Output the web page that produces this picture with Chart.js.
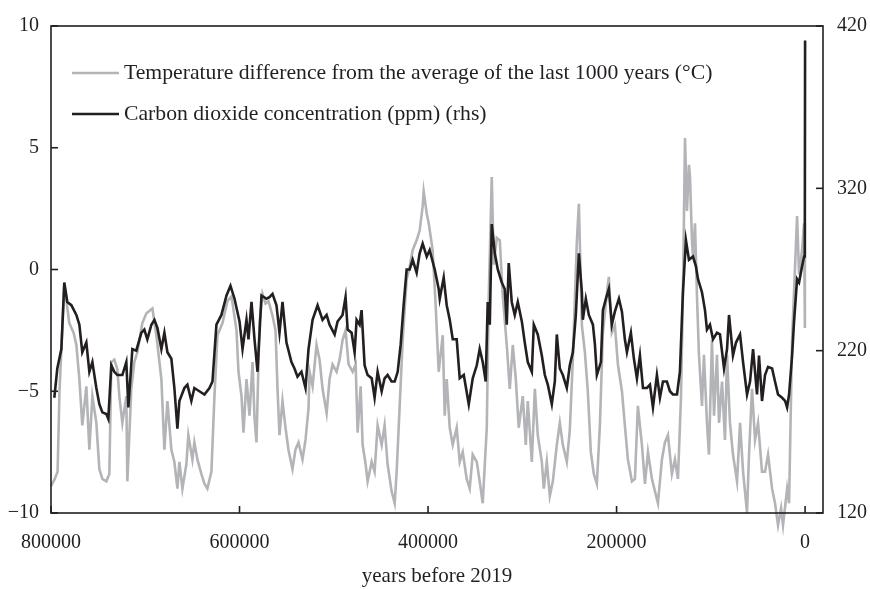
<!DOCTYPE html>
<html lang="en">
<head>
<meta charset="UTF-8">
<title>Temperature and carbon dioxide over 800000 years</title>
<script src="https://cdn.jsdelivr.net/npm/chart.js"></script>
<style>
    body { margin: 0; background: #fff; }
    .chart-container { width: 870px; height: 589px; }
</style>
</head>
<body>
<div class="chart-container"><canvas id="iceCoreChart"></canvas></div>
<script>
// ages in thousands of years before 2019
const tempAgeKyr = [800, 796, 793, 791, 785.9, 780.6, 776, 773.1, 769.9, 766.8, 762.5, 759.3, 756.1, 751.9, 748.7, 745.5, 741.3, 738.1, 736, 732.8,
    729.6, 727.5, 724.3, 720.1, 719, 714.8, 711.6, 708.4, 703.1, 698.8, 695.7, 692.4, 688.2, 682.9, 679.7, 676.5, 672.3, 669.1, 665.9, 663.8,
    660.6, 656.4, 654.3, 650, 647.9, 644.7, 640.4, 637.2, 634.1, 629.8, 626.6, 623.4, 618.1, 612.8, 608.5, 603.2, 601.1, 597.9, 595.8, 592.6,
    589.4, 586.2, 584.1, 582, 578.8, 575.6, 572.4, 569.2, 565, 561.8, 559.7, 557.6, 554.4, 551.2, 548.1, 543.8, 540.7, 537.4, 533.2, 530,
    526.8, 525.7, 522.5, 518.3, 515.1, 511.9, 507.6, 504.5, 501.3, 497, 493.8, 490.7, 487.5, 484.3, 480, 476.8, 474.7, 471.5, 469.4, 466.2,
    464.1, 459.8, 456.7, 453.5, 449.2, 446.1, 442.9, 438.7, 435.4, 433.3, 430.1, 426.9, 422.7, 419.5, 416.3, 412.1, 408.9, 405.7, 404.6, 401.4,
    399.3, 395.1, 391.9, 388.7, 384.4, 382.3, 380.2, 377, 373.8, 369.6, 366.4, 363.2, 359, 355.8, 352.6, 348.3, 345.2, 342, 337.7, 335.6,
    332.4, 330.3, 327.1, 323.9, 320.7, 316.5, 313.3, 310.1, 306.9, 303.8, 299.5, 296.3, 294.2, 289.9, 286.7, 283.6, 279.3, 277.2, 274, 270.8,
    267.6, 263.4, 260.2, 257, 252.8, 249.6, 246.4, 242.2, 240, 236.8, 233.6, 230.5, 227.3, 224.1, 220.9, 217.7, 214.5, 210.3, 208.2, 205,
    201.8, 198.6, 194.3, 191.2, 188, 183.7, 180.5, 177.4, 173.1, 169.9, 166.7, 162.5, 159.3, 156.1, 151.9, 148.7, 145.5, 141.3, 138.1, 134.9,
    131.7, 129.6, 127.4, 125.3, 123.2, 122.1, 120, 118.9, 116.8, 114.7, 112.6, 109.4, 107.3, 104.1, 102, 98.8, 96.6, 93.5, 91.3, 88.1,
    85, 82.8, 79.7, 76.5, 72.2, 69, 65.8, 61.6, 59.5, 56.3, 53.1, 49.9, 45.7, 42.5, 39.3, 35, 31.9, 28.7, 25.5, 23.4,
    19.1, 17, 13.8, 11.7, 8.5, 6.4, 3.2, 1.1, 0.2];
const tempDiff = [-8.9, -8.6, -8.3, -5.0, -0.6, -2.2, -2.6, -3.1, -4.5, -6.4, -4.8, -7.4, -5.2, -6.3, -8.2, -8.6, -8.7, -8.4, -3.8, -3.7,
    -4.1, -5.2, -6.3, -5.2, -8.7, -4.9, -3.8, -3.4, -2.2, -1.8, -1.7, -1.6, -2.7, -4.5, -7.4, -5.4, -7.4, -7.9, -9.0, -7.9,
    -9.0, -8.0, -6.8, -7.8, -7.1, -7.8, -8.4, -8.8, -9.0, -8.3, -5.2, -2.7, -2.2, -1.3, -1.1, -2.5, -4.2, -5.2, -6.7, -4.5,
    -6.0, -3.8, -6.1, -7.1, -2.2, -1.0, -1.4, -1.3, -1.9, -2.5, -4.9, -6.8, -5.4, -6.5, -7.4, -8.2, -7.4, -7.1, -7.8, -7.0,
    -5.7, -4.2, -4.8, -3.1, -3.7, -4.9, -5.9, -4.5, -3.9, -4.2, -3.7, -2.9, -2.5, -3.9, -4.2, -3.9, -6.7, -4.8, -7.2, -8.0,
    -8.7, -7.9, -8.3, -6.4, -7.2, -6.4, -8.0, -9.1, -9.6, -8.3, -5.6, -2.9, -0.4, 0.1, 0.8, 1.2, 1.6, 2.6, 3.2, 2.3,
    1.9, 0.8, -1.5, -4.2, -2.7, -6.0, -4.5, -6.5, -7.2, -6.5, -7.9, -7.5, -8.6, -9.0, -7.6, -7.9, -8.7, -9.6, -6.5, -1.1,
    3.8, 0.2, 1.3, 1.2, -1.1, -3.1, -4.9, -3.1, -4.5, -6.5, -5.2, -7.2, -5.4, -7.9, -4.9, -6.8, -7.9, -9.0, -7.9, -9.3,
    -8.7, -7.2, -6.3, -7.2, -7.9, -6.6, -3.7, 1.1, 2.7, -2.3, -3.4, -5.0, -7.5, -8.4, -8.8, -6.4, -2.6, -1.0, -0.3, -2.6,
    -2.3, -3.9, -5.0, -6.4, -7.8, -8.7, -8.6, -5.6, -7.2, -8.8, -7.5, -8.6, -9.1, -9.6, -7.8, -7.1, -6.8, -8.4, -7.8, -8.6,
    -5.3, -1.0, 5.4, 2.4, 4.3, 3.8, 1.2, 0.5, 1.9, -1.1, -3.5, -5.6, -3.5, -6.3, -7.6, -2.9, -6.0, -3.5, -6.3, -4.6,
    -7.0, -3.5, -6.3, -7.6, -8.7, -6.3, -8.3, -10.0, -7.6, -4.9, -7.0, -6.3, -8.3, -8.3, -7.6, -9.0, -9.6, -10.5, -9.8, -10.5,
    -9.0, -9.6, -2.9, -0.9, 2.2, -0.2, 0.8, 1.9, -2.4];

const co2AgeKyr = [796.5, 793.3, 789, 785.9, 782.7, 778.4, 773.1, 769.9, 766.8, 762.5, 759.3, 756.1, 751.9, 748.7, 745.5, 741.3, 739.2, 736, 732.8, 729.6,
    724.3, 720.1, 717.9, 713.7, 709.5, 704.2, 701, 697.8, 693.5, 690.3, 687.1, 682.9, 679.7, 676.5, 672.3, 669.1, 665.9, 663.8, 658.5, 655.3,
    651.1, 647.9, 642.6, 637.2, 631.9, 628.7, 624.5, 619.2, 613.8, 609.6, 605.3, 600, 596.8, 592.6, 590.5, 587.3, 584.1, 580.9, 576.7, 571.4,
    568.2, 565, 560.8, 557.6, 554.4, 550.2, 544.9, 541.7, 538.5, 534.3, 530, 526.8, 522.5, 517.2, 511.9, 507.6, 504.5, 499.1, 496, 490.7,
    487.5, 485.3, 481.1, 477.9, 475.8, 472.6, 470.5, 467.3, 464.1, 459.8, 456.7, 453.5, 449.2, 446.1, 442.9, 438.7, 435.4, 432.2, 429, 425.9,
    422.7, 419.5, 416.3, 412.1, 408.9, 405.7, 401.4, 398.3, 392.9, 388.7, 387.6, 383.4, 380.2, 377, 373.8, 369.6, 366.4, 362.1, 356.8, 352.6,
    348.3, 345.2, 342, 338.8, 336.7, 334.5, 332.4, 329.2, 326, 321.8, 318.6, 316.5, 314.4, 311.2, 308, 304.8, 300.5, 297.4, 294.2, 289.9,
    287.8, 283.6, 279.3, 276.1, 272.9, 268.7, 265.5, 263.4, 260.2, 257, 252.8, 249.6, 246.4, 243.2, 240, 236.8, 235.8, 232.6, 229.4, 225.1,
    223, 220.9, 216.6, 214.5, 211.3, 208.2, 205, 201.8, 197.5, 194.3, 191.2, 189, 184.8, 181.6, 178.4, 175.2, 172, 167.8, 164.6, 161.4,
    157.2, 154, 150.8, 146.6, 143.4, 140.2, 135.9, 132.8, 129.6, 126.4, 123.2, 118.9, 115.8, 113.6, 109.4, 106.2, 104.1, 100.9, 97.7, 93.5,
    90.3, 86, 82.8, 80.7, 76.5, 73.3, 69, 65.8, 61.6, 58.4, 55.2, 51, 48.9, 45.7, 42.5, 39.3, 35, 31.9, 28.7, 24.4,
    21.2, 19.1, 17, 13.8, 11.7, 8.5, 6.4, 3.2, 1.1, 0.3, 0];
const co2Ppm = [191, 209, 221, 262, 250, 248, 242, 236, 219, 225, 207, 213, 197, 187, 182, 181, 178, 211, 207, 205,
    205, 213, 185, 221, 220, 231, 233, 227, 236, 239, 234, 221, 231, 219, 215, 197, 172, 189, 197, 199,
    189, 197, 195, 193, 197, 201, 236, 242, 254, 260, 252, 238, 221, 239, 227, 250, 227, 207, 254, 252,
    253, 255, 248, 231, 250, 225, 213, 209, 204, 207, 197, 221, 239, 248, 239, 242, 236, 230, 238, 242,
    253, 233, 231, 219, 239, 236, 245, 211, 205, 203, 191, 207, 195, 203, 205, 201, 201, 207, 224, 248,
    270, 270, 276, 268, 280, 286, 278, 282, 270, 258, 252, 265, 248, 239, 227, 227, 203, 205, 187, 203,
    211, 221, 213, 201, 250, 236, 298, 280, 270, 262, 258, 236, 274, 250, 242, 250, 238, 225, 213, 207,
    236, 230, 217, 205, 199, 187, 201, 230, 209, 205, 197, 211, 219, 242, 280, 256, 239, 252, 242, 236,
    224, 205, 213, 245, 252, 258, 236, 244, 252, 244, 227, 219, 231, 215, 203, 217, 197, 197, 199, 185,
    205, 191, 201, 201, 195, 193, 193, 207, 256, 288, 276, 278, 272, 264, 256, 245, 233, 236, 227, 231,
    230, 209, 221, 242, 217, 225, 230, 213, 193, 201, 221, 193, 217, 189, 205, 210, 209, 201, 193, 191,
    189, 185, 193, 217, 238, 264, 262, 272, 278, 284, 411];

const yearTicks = [800000, 600000, 400000, 200000, 0];
const tempTicks = [-10, -5, 0, 5, 10];
const co2Ticks = [120, 220, 320, 420];
const seriesLabels = [
    'Temperature difference from the average of the last 1000 years (°C)',
    'Carbon dioxide concentration (ppm) (rhs)'
];

const INK = '#231f20';
const GREY = '#b3b4b7';
const FONT = "'Liberation Serif', 'Times New Roman', serif";

Chart.defaults.font.family = FONT;
Chart.defaults.font.size = 20;
Chart.defaults.color = INK;

// box round the plot, inward tick marks and the legend inside the plot
const frameAndLegend = {
    id: 'frameAndLegend',
    afterDraw(chart) {
        const ctx = chart.ctx;
        const a = chart.chartArea;
        const tick = 7;
        const seg = (x1, y1, x2, y2) => {
            ctx.beginPath();
            ctx.moveTo(x1, y1);
            ctx.lineTo(x2, y2);
            ctx.stroke();
        };
        ctx.save();
        ctx.strokeStyle = INK;
        ctx.lineWidth = 1.6;
        ctx.strokeRect(a.left, a.top, a.right - a.left, a.bottom - a.top);
        chart.scales.x.ticks.forEach(t => {
            const px = chart.scales.x.getPixelForValue(t.value);
            seg(px, a.bottom, px, a.bottom - tick);
        });
        chart.scales.y.ticks.forEach(t => {
            const py = chart.scales.y.getPixelForValue(t.value);
            seg(a.left, py, a.left + tick, py);
        });
        chart.scales.y1.ticks.forEach(t => {
            const py = chart.scales.y1.getPixelForValue(t.value);
            seg(a.right, py, a.right - tick, py);
        });

        ctx.font = '21.7px ' + FONT;
        ctx.textBaseline = 'middle';
        ctx.fillStyle = INK;
        chart.data.datasets.forEach((ds, i) => {
            const y = a.top + 47 + i * 41;
            ctx.strokeStyle = ds.borderColor;
            ctx.lineWidth = 2.6;
            seg(a.left + 21, y, a.left + 68, y);
            ctx.fillText(ds.label, a.left + 73, y);
        });
        ctx.restore();
    }
};

const ctx = document.getElementById('iceCoreChart').getContext('2d');
new Chart(ctx, {
    type: 'line',
    data: {
        datasets: [{
            label: seriesLabels[0],
            data: tempAgeKyr.map((a, i) => ({ x: a * 1000, y: tempDiff[i] })),
            yAxisID: 'y',
            borderColor: GREY,
            borderWidth: 2.6,
            pointRadius: 0,
            tension: 0,
            clip: false,
            order: 1
        }, {
            label: seriesLabels[1],
            data: co2AgeKyr.map((a, i) => ({ x: a * 1000, y: co2Ppm[i] })),
            yAxisID: 'y1',
            borderColor: INK,
            borderWidth: 2.6,
            pointRadius: 0,
            tension: 0,
            clip: false,
            order: 0
        }]
    },
    options: {
        responsive: true,
        maintainAspectRatio: false,
        animation: false,
        layout: { padding: { top: 20, left: 0, right: 0, bottom: 0 } },
        plugins: {
            legend: { display: false },
            tooltip: { enabled: false }
        },
        scales: {
            x: {
                type: 'linear',
                reverse: true,
                min: -19000,
                max: 800000,
                grid: { display: false, drawTicks: false },
                border: { display: false },
                afterBuildTicks: s => { s.ticks = yearTicks.map(v => ({ value: v })); },
                afterFit: s => { s.height = 76; },
                ticks: { padding: 18, maxRotation: 0, autoSkip: false, callback: v => String(v) },
                title: { display: true, text: 'years before 2019', font: { size: 21 }, padding: { top: 0, bottom: 0 } }
            },
            y: {
                position: 'left',
                min: -10,
                max: 10,
                grid: { display: false, drawTicks: false },
                border: { display: false },
                afterBuildTicks: s => { s.ticks = tempTicks.map(v => ({ value: v })); },
                afterFit: s => { s.width = 51; },
                ticks: { padding: 12, callback: v => (v < 0 ? '\u2212' + Math.abs(v) : String(v)) }
            },
            y1: {
                position: 'right',
                min: 120,
                max: 420,
                grid: { display: false, drawTicks: false },
                border: { display: false },
                afterBuildTicks: s => { s.ticks = co2Ticks.map(v => ({ value: v })); },
                afterFit: s => { s.width = 47; },
                ticks: { padding: 14, callback: v => String(v) }
            }
        }
    },
    plugins: [frameAndLegend]
});
</script>
</body>
</html>
